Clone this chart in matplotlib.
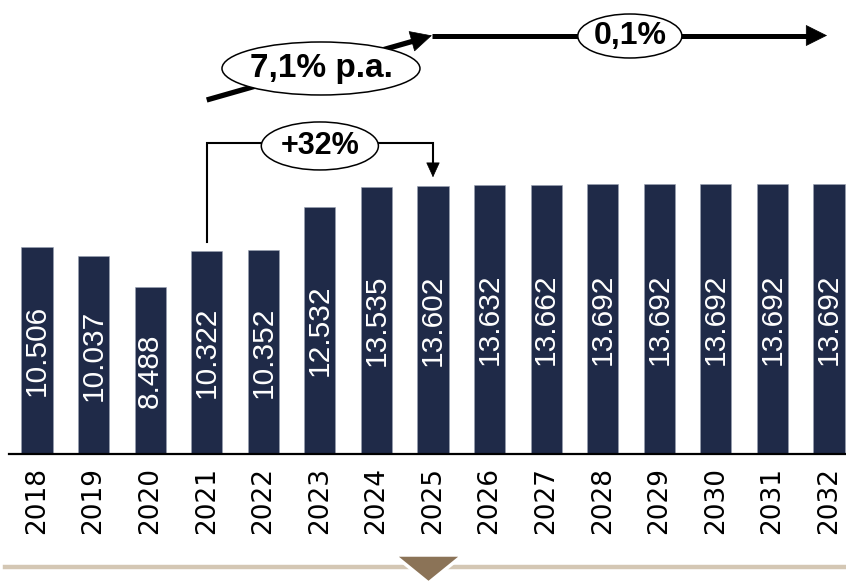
import matplotlib
matplotlib.use("Agg")
import matplotlib.pyplot as plt
from matplotlib.patches import Ellipse, Polygon
from matplotlib.lines import Line2D

years = ["2018", "2019", "2020", "2021", "2022", "2023", "2024", "2025",
         "2026", "2027", "2028", "2029", "2030", "2031", "2032"]
values = [10506, 10037, 8488, 10322, 10352, 12532, 13535, 13602,
          13632, 13662, 13692, 13692, 13692, 13692, 13692]
labels = ["10.506", "10.037", "8.488", "10.322", "10.352", "12.532", "13.535", "13.602",
          "13.632", "13.662", "13.692", "13.692", "13.692", "13.692", "13.692"]
cagr_label = "7,1% p.a."
flat_label = "0,1%"
growth_label = "+32%"

W, H = 846, 581
fig = plt.figure(figsize=(W / 100, H / 100), dpi=100)
base_px = 454
ax = fig.add_axes([9 / W, (H - base_px) / H, (W - 9) / W, base_px / H])
ax.set_xlim(-0.495, 14.301)
ax.set_ylim(0, 23042)

navy = "#1f2a48"
x = list(range(len(years)))
ax.bar(x, values, width=0.55, color=navy, edgecolor="#9aa1b2", linewidth=0.4, zorder=2)

for xi, v, lab in zip(x, values, labels):
    ax.text(xi, v / 2, lab, rotation=90, ha="center", va="center", color="white",
            fontsize=21.5, family="Liberation Sans", zorder=3)

for xi, yr in zip(x, years):
    ax.text(xi, -650, yr, rotation=90, ha="center", va="top", color="black",
            fontsize=19, family="DejaVu Sans", clip_on=False)

for s in ["top", "right", "left"]:
    ax.spines[s].set_visible(False)
ax.spines["bottom"].set_linewidth(1.6)
ax.spines["bottom"].set_color("black")
ax.set_xticks([])
ax.set_yticks([])
ax.patch.set_alpha(0)

# Bracket 2021 -> 2025
i0, i1 = 3, 7
yb = 15784
ax.plot([i0, i0, i1, i1], [values[i0] + 450, yb, yb, values[i1] + 1100],
        color="black", lw=1.5, solid_joinstyle="miter", zorder=4)
ax.annotate("", xy=(i1, values[i1] + 440), xytext=(i1, values[i1] + 1150),
            arrowprops=dict(arrowstyle="-|>,head_length=0.7,head_width=0.32",
                            color="black", lw=0.5, shrinkA=0, shrinkB=0,
                            mutation_scale=14), zorder=4)
ax.add_patch(Ellipse((5.0, yb - 150), 2.07, 2436, facecolor="white",
                     edgecolor="black", lw=1.1, zorder=5))
ax.text(5.0, yb - 150, growth_label, ha="center", va="center", fontsize=22,
        fontweight="bold", family="Liberation Sans", zorder=6)

# Top trend arrows
y_start, y_top = 17967, 21240
ax.plot([i0, i1 - 0.35], [y_start, y_top - 0.35 * (y_top - y_start) / 4],
        color="black", lw=3.8, solid_capstyle="butt", zorder=4)
ax.annotate("", xy=(i1 - 0.02, y_top), xytext=(i1 - 0.4, y_top - 0.38 * (y_top - y_start) / 4),
            arrowprops=dict(arrowstyle="-|>,head_length=0.8,head_width=0.4",
                            color="black", lw=0.5, shrinkA=0, shrinkB=0,
                            mutation_scale=18), zorder=4)
ax.plot([i1 - 0.02, 13.7], [y_top, y_top], color="black", lw=3.6,
        solid_capstyle="butt", zorder=4)
ax.annotate("", xy=(13.966, y_top), xytext=(13.6, y_top),
            arrowprops=dict(arrowstyle="-|>,head_length=0.8,head_width=0.4",
                            color="black", lw=0.5, shrinkA=0, shrinkB=0,
                            mutation_scale=18), zorder=4)

ax.add_patch(Ellipse((5.02, 19566), 3.5, 2690, facecolor="white",
                     edgecolor="black", lw=1.1, zorder=5))
ax.text(5.02, 19566, cagr_label, ha="center", va="center", fontsize=24,
        fontweight="bold", family="Liberation Sans", zorder=6)
ax.add_patch(Ellipse((10.48, 21215), 1.84, 2233, facecolor="white",
                     edgecolor="black", lw=1.1, zorder=5))
ax.text(10.48, 21215, flat_label, ha="center", va="center", fontsize=23,
        fontweight="bold", family="Liberation Sans", zorder=6)

# Bottom beige line and triangle
fy = (H - 567) / H
fig.add_artist(Line2D([5 / W, 1], [fy, fy], color="#d4c7b4", lw=3.2,
                      transform=fig.transFigure, zorder=1))
tri = Polygon([(394 / W, (H - 555) / H), (463 / W, (H - 555) / H), (428.5 / W, (H - 583) / H)],
              closed=True, facecolor="#8b7357", edgecolor="white", lw=2.5,
              joinstyle="miter", transform=fig.transFigure, zorder=3)
fig.add_artist(tri)

fig.savefig("out.png", dpi=100)
